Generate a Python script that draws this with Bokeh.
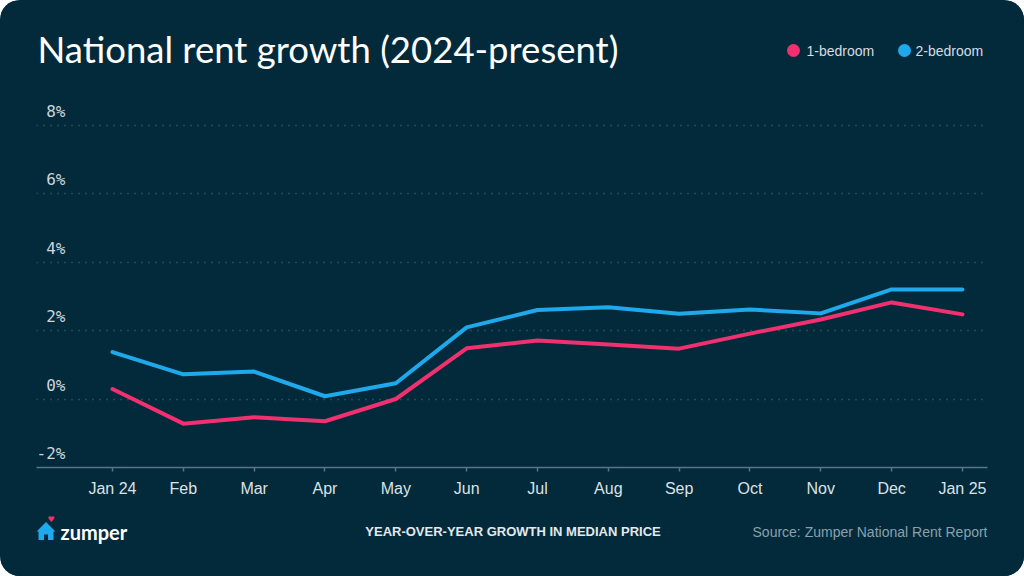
from bokeh.plotting import figure
from bokeh.models import Range1d, FixedTicker, Label, ColumnDataSource
from bokeh.layouts import column
from bokeh.core.properties import value
from bokeh.embed import file_html
from bokeh.resources import INLINE

# ---- data ----
months = ["Jan 24", "Feb", "Mar", "Apr", "May", "Jun", "Jul", "Aug", "Sep", "Oct", "Nov", "Dec", "Jan 25"]
one_bedroom = [0.29, -0.72, -0.53, -0.65, 0.0, 1.48, 1.71, 1.59, 1.47, 1.91, 2.32, 2.82, 2.47]
two_bedroom = [1.37, 0.72, 0.80, 0.08, 0.46, 2.09, 2.60, 2.68, 2.49, 2.61, 2.50, 3.20, 3.20]
y_ticks = [-2, 0, 2, 4, 6, 8]
y_tick_labels = ["-2%", "0%", "2%", "4%", "6%", "8%"]
series_names = ["1-bedroom", "2-bedroom"]

BG = "#032a3b"
PINK = "#f0306f"
BLUE = "#1ea9ec"

W, H = 1024, 576
MAIN_H = 505
FRAME_L, FRAME_R = 36, 987          # canvas px
FRAME_B = 467
PX_PER_MONTH = 70.83
PX_PER_PCT = 34.25
ZERO_Y = 398.5                      # canvas px of 0%
JAN24_X = 112.0                     # canvas px of first month

x_start = -(JAN24_X - FRAME_L) / PX_PER_MONTH
x_end = (FRAME_R - JAN24_X) / PX_PER_MONTH
y_start = -(FRAME_B - ZERO_Y) / PX_PER_PCT
y_end = ZERO_Y / PX_PER_PCT

def dx(px):
    return (px - JAN24_X) / PX_PER_MONTH

def dy(py):
    return (ZERO_Y - py) / PX_PER_PCT

p = figure(width=W, height=MAIN_H, output_backend="svg", toolbar_location=None,
           x_range=Range1d(x_start, x_end), y_range=Range1d(y_start, y_end),
           min_border_left=FRAME_L, min_border_right=W - FRAME_R,
           min_border_top=0, min_border_bottom=MAIN_H - FRAME_B,
           background_fill_color=BG, border_fill_color=BG,
           outline_line_color=None)

# axes
p.yaxis.visible = False
xa = p.xaxis[0]
xa.ticker = FixedTicker(ticks=list(range(len(months))))
xa.major_label_overrides = {i: m for i, m in enumerate(months)}
xa.axis_line_color = "#5a7585"
xa.axis_line_width = 1.5
xa.major_tick_line_color = "#5a7585"
xa.major_tick_line_width = 1.5
xa.major_tick_in = 0
xa.major_tick_out = 4
xa.minor_tick_line_color = None
xa.major_label_standoff = 8
xa.major_label_text_font = "Liberation Sans"
xa.major_label_text_font_size = "16px"
xa.major_label_text_color = "#dbe2e6"

# grid
p.xgrid.visible = False
p.ygrid.ticker = FixedTicker(ticks=[0, 2, 4, 6, 8])
p.ygrid.grid_line_color = "#4d6976"
p.ygrid.grid_line_dash = "1 6"
p.ygrid.grid_line_width = 1.5

# y labels (sit above their gridline)
label_lift = 14 / PX_PER_PCT
src_y = ColumnDataSource(dict(x=[dx(65)] * len(y_ticks),
                              y=[t + label_lift for t in y_ticks], t=y_tick_labels))
p.text(x="x", y="y", text="t", source=src_y, text_align="right", text_baseline="middle",
       text_font=value("DejaVu Sans Mono"), text_font_size="16px", text_color="#cdd5db")

# series
xs = list(range(len(months)))
p.line(xs, one_bedroom, line_color=PINK, line_width=4, line_join="round", line_cap="round")
p.line(xs, two_bedroom, line_color=BLUE, line_width=4, line_join="round", line_cap="round")

# legend (manual)
p.scatter([dx(793), dx(904)], [dy(50), dy(50)], size=13, color=[PINK, BLUE], line_color=None)
for name, px in zip(series_names, [806, 915]):
    p.add_layout(Label(x=dx(px), y=dy(50), text=name, text_baseline="middle",
                       text_font="Liberation Sans", text_font_size="14px", text_color="#d5dde2"))

# title
p.add_layout(Label(x=dx(37), y=dy(48), text="National rent growth (2024-present)",
                   text_baseline="middle", text_font="Lato", text_font_size="36.5px",
                   text_color="#ffffff"))

# ---- footer strip (its frame is aligned with the main frame: x in canvas px) ----
f = figure(width=W, height=H - MAIN_H, output_backend="svg", toolbar_location=None,
           x_range=Range1d(FRAME_L, FRAME_R), y_range=Range1d(H, MAIN_H),
           min_border=0, min_border_left=FRAME_L, min_border_right=W - FRAME_R,
           min_border_top=0, min_border_bottom=0,
           background_fill_color=BG, border_fill_color=BG, outline_line_color=None)
f.axis.visible = False
f.grid.visible = False

# zumper logo: little house + heart
f.patch([36, 45.5, 55, 53, 53, 38, 38], [531, 521.5, 531, 531, 539.5, 539.5, 531],
        color=BLUE, line_color=None)
f.quad(left=[43.5], right=[47.5], top=[534], bottom=[539.5], color=BG, line_color=None)
f.add_layout(Label(x=50.5, y=519, text="\u2665", text_baseline="middle", text_align="center",
                   text_font="DejaVu Sans", text_font_size="8px", text_color=PINK))
f.add_layout(Label(x=60, y=531, text="zumper", text_baseline="middle",
                   text_font="Lato", text_font_size="20px", text_font_style="bold",
                   text_color="#ffffff"))
f.add_layout(Label(x=512.5, y=531, text="YEAR-OVER-YEAR GROWTH IN MEDIAN PRICE",
                   text_baseline="middle", text_align="center", text_font="Liberation Sans",
                   text_font_size="13px", text_font_style="bold", text_color="#e3e9ec"))
f.add_layout(Label(x=987, y=531, text="Source: Zumper National Rent Report",
                   text_baseline="middle", text_align="right", text_font="Liberation Sans",
                   text_font_size="14px", text_color="#8aa0ad"))

layout = column(p, f, spacing=0,
                styles={"border-radius": "20px", "overflow": "hidden", "background-color": BG})

open("out.html", "w").write(file_html(layout, INLINE))
